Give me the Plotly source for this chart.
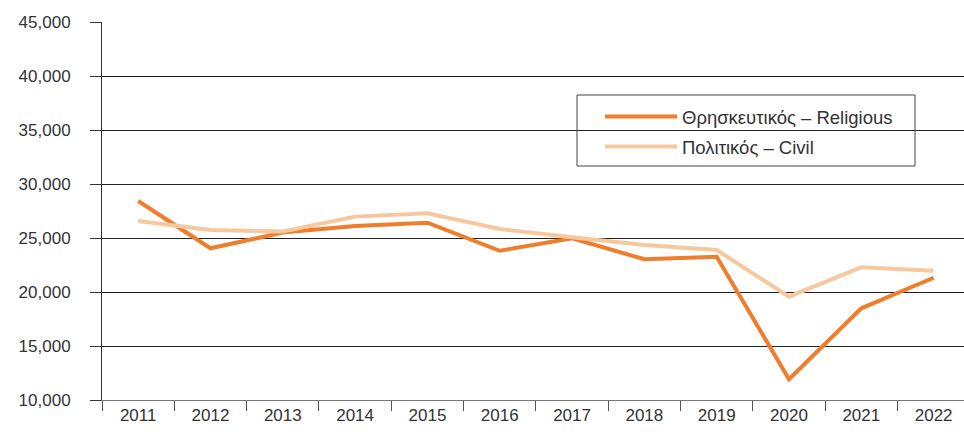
import plotly.graph_objects as go

years = ["2011", "2012", "2013", "2014", "2015", "2016", "2017", "2018", "2019", "2020", "2021", "2022"]
religious = [28430, 24050, 25500, 26110, 26420, 23820, 24970, 23030, 23270, 11920, 18490, 21320]
civil = [26570, 25740, 25600, 26980, 27290, 25830, 25060, 24350, 23890, 19570, 22290, 21970]
name_religious = "Θρησκευτικός – Religious"
name_civil = "Πολιτικός – Civil"

FONT = "Liberation Sans, Arial, sans-serif"
TXT = "#333333"

fig = go.Figure()
fig.add_trace(go.Scatter(x=years, y=religious, mode="lines", name=name_religious,
                         line=dict(color="#EF7D2B", width=4), legend="legend"))
fig.add_trace(go.Scatter(x=years, y=civil, mode="lines", name=name_civil,
                         line=dict(color="#F7C79E", width=4), legend="legend2"))

L, T, PW, PH = 102, 22, 862, 378
def px(xp):
    return (xp - L) / PW
def py(yp):
    return 1 - (yp - T) / PH

leg_common = dict(xanchor="left", yanchor="middle", borderwidth=0,
                  bgcolor="rgba(0,0,0,0)", itemwidth=72,
                  font=dict(family=FONT, size=18.5, color=TXT))

fig.update_layout(
    width=964, height=436,
    margin=dict(l=L, r=0, t=T, b=36),
    paper_bgcolor="white", plot_bgcolor="white",
    font=dict(family=FONT, size=17, color=TXT),
    showlegend=True,
    legend=dict(x=px(600), y=py(117), **leg_common),
    legend2=dict(x=px(600), y=py(147), **leg_common),
    shapes=[dict(type="rect", xref="paper", yref="paper",
                 x0=px(577), x1=px(915), y0=py(166), y1=py(95),
                 line=dict(color="#444444", width=1), fillcolor="rgba(0,0,0,0)")],
    xaxis=dict(type="category", range=[-0.5, 11.42], showgrid=False,
               tickson="boundaries", ticks="outside", ticklen=10, tickcolor="#555555",
               showline=True, linecolor="#777777", linewidth=1, zeroline=False,
               tickfont=dict(family=FONT, size=17, color=TXT)),
    yaxis=dict(range=[10000, 45000], dtick=5000, tickformat=",",
               showgrid=True, gridcolor="#222222", gridwidth=1,
               ticks="outside", ticklen=11, tickcolor="#333333",
               ticklabelstandoff=16,
               showline=True, linecolor="#333333", linewidth=1, zeroline=False,
               tickfont=dict(family=FONT, size=17, color=TXT)),
)

fig.write_html("out.html")
